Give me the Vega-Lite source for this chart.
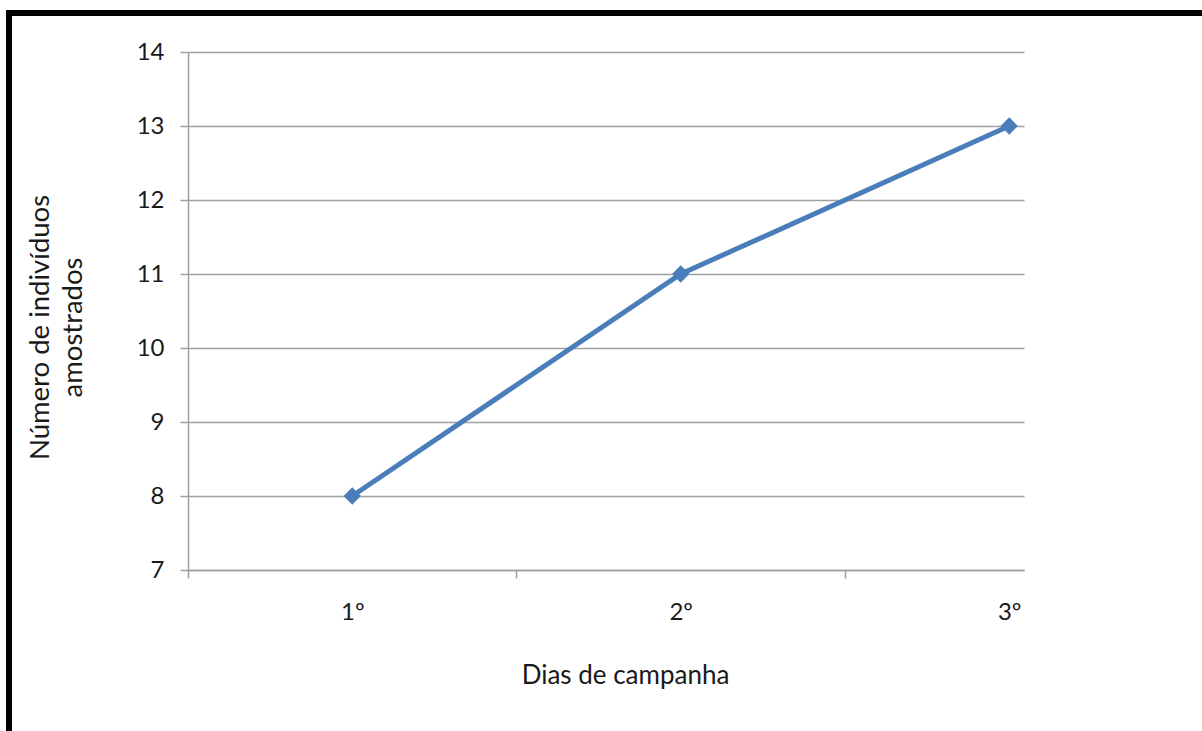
{
  "$schema": "https://vega.github.io/schema/vega-lite/v6.json",
  "autosize": {"type": "none"},
  "padding": {"left": 9, "top": 13, "right": -7, "bottom": -12},
  "width": 1200,
  "height": 730,
  "background": "white",
  "config": {
    "view": {"stroke": "#000000", "strokeWidth": 6},
    "font": "Lato"
  },
  "data": {
    "values": [
      {"dia": 1, "individuos": 8},
      {"dia": 2, "individuos": 11},
      {"dia": 3, "individuos": 13}
    ]
  },
  "encoding": {
    "x": {
      "field": "dia",
      "type": "quantitative",
      "scale": {"domain": [0.5, 3.045], "range": [179, 1015], "nice": false, "zero": false},
      "axis": {
        "orient": "bottom",
        "offset": -173,
        "values": [0.5, 1, 1.5, 2, 2.5, 3],
        "grid": false,
        "domainColor": "#a0a0a0",
        "domainWidth": 1.5,
        "tickColor": "#a0a0a0",
        "tickWidth": 1.5,
        "tickSize": 8,
        "tickOpacity": {"condition": {"test": "datum.value % 1 === 0", "value": 0}, "value": 1},
        "labelExpr": "datum.value % 1 === 0 ? datum.value + 'º' : ''",
        "labelFontSize": 24,
        "labelColor": "#1a1a1a",
        "labelPadding": 41,
        "labelBaseline": "alphabetic",
        "labelFlush": false,
        "labelOverlap": false,
        "title": "Dias de campanha",
        "titleFontSize": 26,
        "titleFontWeight": "normal",
        "titleColor": "#1a1a1a",
        "titleX": 616,
        "titleY": 113,
        "titleAlign": "center",
        "titleBaseline": "alphabetic"
      }
    },
    "y": {
      "field": "individuos",
      "type": "quantitative",
      "scale": {"domain": [7, 14], "range": [557, 39], "nice": false, "zero": false},
      "axis": {
        "orient": "left",
        "offset": -179,
        "values": [7, 8, 9, 10, 11, 12, 13, 14],
        "grid": true,
        "gridColor": "#a0a0a0",
        "gridWidth": 1.5,
        "domainColor": "#a0a0a0",
        "domainWidth": 1.5,
        "tickColor": "#a0a0a0",
        "tickWidth": 1.5,
        "tickSize": 8,
        "labelFontSize": 24,
        "labelColor": "#1a1a1a",
        "labelPadding": 16,
        "title": ["Número de indivíduos", "amostrados"],
        "titleFontSize": 27.5,
        "titleFontWeight": "normal",
        "titleColor": "#1a1a1a",
        "titleLineHeight": 33,
        "titleAngle": 270,
        "titleX": -140,
        "titleY": 314,
        "titleAlign": "center",
        "titleBaseline": "alphabetic"
      }
    }
  },
  "layer": [
    {"mark": {"type": "line", "color": "#4a7ebb", "strokeWidth": 5}},
    {"mark": {"type": "point", "shape": "diamond", "filled": true, "size": 300, "color": "#4a7ebb", "opacity": 1}}
  ]
}
